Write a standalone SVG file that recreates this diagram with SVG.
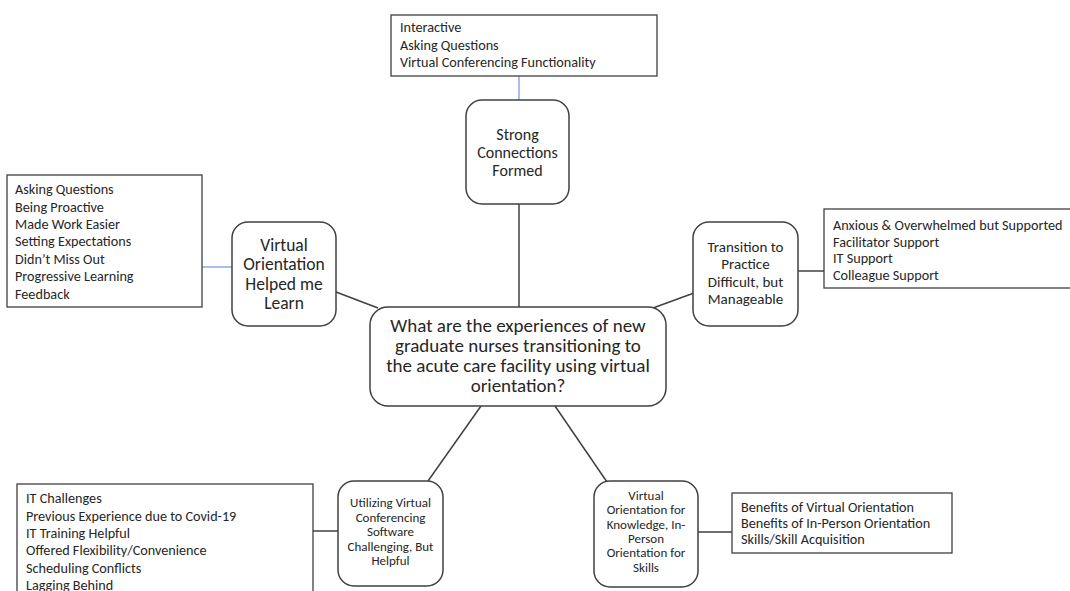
<svg xmlns="http://www.w3.org/2000/svg" width="1070" height="591" viewBox="0 0 1070 591">
<style>
text{font-family:Carlito,Lato,"Open Sans",sans-serif;fill:#262626}
.node{fill:#fff;stroke:#404040;stroke-width:1.5}
.list{fill:#fff;stroke:#404040;stroke-width:1.3}
.c{stroke:#404040;stroke-width:1.5;fill:none}
.b{stroke:#8eaadb;stroke-width:1.5;fill:none}
.t15{font-size:15px;text-anchor:middle}
.t16{font-size:16px;text-anchor:middle}
.t18{font-size:17.5px;text-anchor:middle}
.t19{font-size:19px;text-anchor:middle}
.t13{font-size:13px;text-anchor:middle}
.l{font-size:14.2px}
</style>
<rect width="1070" height="591" fill="#fff"/>
<g id="connectors">
<line class="b" x1="519" y1="76" x2="519" y2="100"/>
<line class="c" x1="519" y1="204" x2="519" y2="307"/>
<line class="b" x1="202" y1="267" x2="232" y2="267"/>
<line class="c" x1="336" y1="292" x2="378" y2="308"/>
<line class="c" x1="653" y1="308" x2="694" y2="293"/>
<line class="c" x1="798" y1="271" x2="824" y2="271"/>
<line class="c" x1="481" y1="406" x2="428" y2="481"/>
<line class="c" x1="338" y1="531" x2="313" y2="531"/>
<line class="c" x1="555" y1="406" x2="607" y2="482"/>
<line class="c" x1="698" y1="532" x2="732" y2="532"/>
</g>
<g id="list-top">
<rect class="list" x="391" y="15" width="266" height="61"/>
<text class="l" x="400" y="32">Interactive</text>
<text class="l" x="400" y="50">Asking Questions</text>
<text class="l" x="400" y="67">Virtual Conferencing Functionality</text>
</g>
<g id="node-strong">
<rect class="node" x="466" y="100" width="103" height="104" rx="16"/>
<text class="t16" x="517.5" y="140">Strong</text>
<text class="t16" x="517.5" y="158">Connections</text>
<text class="t16" x="517.5" y="176">Formed</text>
</g>
<g id="list-left">
<rect class="list" x="7" y="175" width="195" height="132"/>
<text class="l" x="15" y="194">Asking Questions</text>
<text class="l" x="15" y="212">Being Proactive</text>
<text class="l" x="15" y="229">Made Work Easier</text>
<text class="l" x="15" y="246">Setting Expectations</text>
<text class="l" x="15" y="264">Didn’t Miss Out</text>
<text class="l" x="15" y="281">Progressive Learning</text>
<text class="l" x="15" y="299">Feedback</text>
</g>
<g id="node-learn">
<rect class="node" x="232" y="222" width="104" height="104" rx="16"/>
<text class="t18" x="284" y="251">Virtual</text>
<text class="t18" x="284" y="270">Orientation</text>
<text class="t18" x="284" y="289.5">Helped me</text>
<text class="t18" x="284" y="309">Learn</text>
</g>
<g id="node-transition">
<rect class="node" x="693" y="222" width="105" height="104" rx="16"/>
<text class="t15" x="745.5" y="252">Transition to</text>
<text class="t15" x="745.5" y="269">Practice</text>
<text class="t15" x="745.5" y="287">Difficult, but</text>
<text class="t15" x="745.5" y="304">Manageable</text>
</g>
<g id="list-right">
<rect class="list" x="824" y="209" width="250" height="79"/>
<text class="l" x="833" y="230">Anxious &amp; Overwhelmed but Supported</text>
<text class="l" x="833" y="247">Facilitator Support</text>
<text class="l" x="833" y="263">IT Support</text>
<text class="l" x="833" y="280">Colleague Support</text>
</g>
<g id="node-center">
<rect class="node" x="370" y="307" width="296" height="99" rx="18"/>
<text class="t19" x="518" y="331.5">What are the experiences of new</text>
<text class="t19" x="518" y="351.5">graduate nurses transitioning to</text>
<text class="t19" x="518" y="371.5">the acute care facility using virtual</text>
<text class="t19" x="518" y="391.5">orientation?</text>
</g>
<g id="list-bottom-left">
<rect class="list" x="17" y="484" width="296" height="120"/>
<text class="l" x="26" y="503">IT Challenges</text>
<text class="l" x="26" y="521">Previous Experience due to Covid-19</text>
<text class="l" x="26" y="538">IT Training Helpful</text>
<text class="l" x="26" y="555">Offered Flexibility/Convenience</text>
<text class="l" x="26" y="573">Scheduling Conflicts</text>
<text class="l" x="26" y="590">Lagging Behind</text>
</g>
<g id="node-software">
<rect class="node" x="338" y="481" width="105" height="105" rx="16"/>
<text class="t13" x="390.5" y="507">Utilizing Virtual</text>
<text class="t13" x="390.5" y="522">Conferencing</text>
<text class="t13" x="390.5" y="536">Software</text>
<text class="t13" x="390.5" y="551">Challenging, But</text>
<text class="t13" x="390.5" y="565">Helpful</text>
</g>
<g id="node-knowledge">
<rect class="node" x="594" y="481" width="104" height="106" rx="16"/>
<text class="t13" x="646" y="500">Virtual</text>
<text class="t13" x="646" y="514">Orientation for</text>
<text class="t13" x="646" y="529">Knowledge, In-</text>
<text class="t13" x="646" y="543">Person</text>
<text class="t13" x="646" y="557">Orientation for</text>
<text class="t13" x="646" y="572">Skills</text>
</g>
<g id="list-bottom-right">
<rect class="list" x="732" y="493" width="220" height="60"/>
<text class="l" x="741" y="512">Benefits of Virtual Orientation</text>
<text class="l" x="741" y="528">Benefits of In-Person Orientation</text>
<text class="l" x="741" y="544">Skills/Skill Acquisition</text>
</g>
</svg>
